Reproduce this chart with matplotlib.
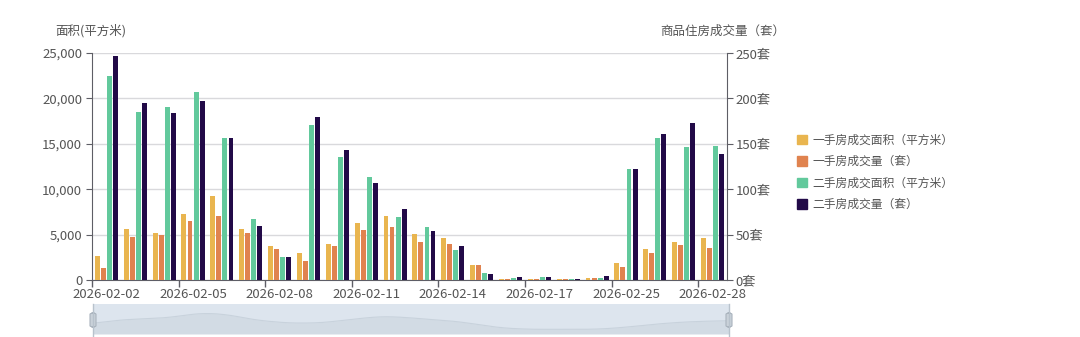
import numpy as np
import matplotlib
matplotlib.use("Agg")
import matplotlib.pyplot as plt
from matplotlib.patches import Patch, FancyBboxPatch
from matplotlib.ticker import FuncFormatter

plt.rcParams['font.family'] = ['Noto Sans CJK SC', 'DejaVu Sans']

dates = [
    "2026-02-02", "2026-02-03", "2026-02-04", "2026-02-05", "2026-02-06",
    "2026-02-07", "2026-02-08", "2026-02-09", "2026-02-10", "2026-02-11",
    "2026-02-12", "2026-02-13", "2026-02-14", "2026-02-15", "2026-02-16",
    "2026-02-17", "2026-02-23", "2026-02-24", "2026-02-25", "2026-02-26",
    "2026-02-27", "2026-02-28",
]

# new homes: area (m²) and units
new_area = [2660, 5650, 5200, 7270, 9300, 5650, 3730, 2980, 3990, 6300,
            7000, 5050, 4580, 1620, 100, 100, 70, 180, 1920, 3430, 4240, 4580]
new_units = [13, 47, 50, 65, 71, 52, 34, 21, 37, 55,
             58, 42, 40, 16, 1, 1, 1, 2, 14, 30, 38, 35]
# second-hand homes: area (m²) and units
old_area = [22500, 18450, 19000, 20660, 15600, 6680, 2550, 17080, 13580, 11330,
            6970, 5830, 3280, 770, 250, 300, 100, 220, 12250, 15680, 14690, 14760]
old_units = [247, 195, 184, 197, 156, 60, 25, 179, 143, 107,
             78, 54, 37, 7, 3, 3, 1, 4, 122, 161, 173, 139]

series_names = ["一手房成交面积（平方米）", "一手房成交量（套）",
                "二手房成交面积（平方米）", "二手房成交量（套）"]
colors = ["#e9b54f", "#e0834f", "#62c99c", "#220a48"]

area_ticks = [0, 5000, 10000, 15000, 20000, 25000]
unit_ticks = [0, 50, 100, 150, 200, 250]

axis_color = "#5e5e66"
grid_color = "#d9d9dc"
text_color = "#555555"

W, H = 1080, 337
fig = plt.figure(figsize=(W / 100, H / 100), dpi=100)

ax = fig.add_axes([92 / W, 57 / H, 635 / W, 227 / H])
ax2 = ax.twinx()

x = np.arange(len(dates))
bw = 0.17
step = 0.21
offs = [-1.5 * step, -0.5 * step, 0.5 * step, 1.5 * step]

ax.bar(x + offs[0], new_area, width=bw, color=colors[0], zorder=3)
ax2.bar(x + offs[1], new_units, width=bw, color=colors[1], zorder=3)
ax.bar(x + offs[2], old_area, width=bw, color=colors[2], zorder=3)
ax2.bar(x + offs[3], old_units, width=bw, color=colors[3], zorder=3)

ax.set_xlim(-0.5, len(dates) - 0.5)
ax.set_ylim(0, 25000)
ax2.set_ylim(0, 250)

ax.set_yticks(area_ticks)
ax.yaxis.set_major_formatter(FuncFormatter(lambda v, p: f"{int(v):,}"))
ax2.set_yticks(unit_ticks)
ax2.set_yticklabels([f"{v}套" for v in unit_ticks])

ax.grid(axis="y", color=grid_color, linewidth=1, zorder=0)
ax.set_axisbelow(True)

label_idx = list(range(0, len(dates), 3))
ax.set_xticks(label_idx)
ax.set_xticklabels([dates[i] for i in label_idx])
ax.set_xticks([i - 0.5 for i in label_idx], minor=True)
ax.tick_params(axis="x", which="major", length=0, pad=6, labelsize=9.5,
               labelcolor=text_color)
ax.tick_params(axis="x", which="minor", length=5, color=axis_color, width=1)

ax.tick_params(axis="y", length=4, color=axis_color, labelsize=9.5,
               labelcolor=text_color, pad=3)
ax2.tick_params(axis="y", length=4, color=axis_color, labelsize=9.5,
                labelcolor=text_color, pad=2)

for a in (ax, ax2):
    a.spines["top"].set_visible(False)
    a.spines["left"].set_color(axis_color)
    a.spines["right"].set_color(axis_color)
    a.spines["bottom"].set_color(axis_color)
ax.spines["right"].set_visible(False)
ax2.spines["left"].set_visible(False)
ax2.spines["bottom"].set_visible(False)

fig.text(91 / W, 1 - 31 / H, "面积(平方米)", ha="center", va="center",
         fontsize=9, color="#555555")
fig.text(723 / W, 1 - 31 / H, "商品住房成交量（套）", ha="center", va="center",
         fontsize=9, color="#555555")

handles = [Patch(facecolor=c, edgecolor=c) for c in colors]
fig.legend(handles, series_names, loc="upper left",
           bbox_to_anchor=(786 / W, 1 - 123 / H), frameon=False,
           fontsize=8.5, handlelength=0.85, handleheight=0.85,
           handletextpad=0.5, labelspacing=0.72, labelcolor="#555555")

# range slider below the chart, showing the first series outline
sl = fig.add_axes([93 / W, 3 / H, 636 / W, 30 / H])
sl.set_xlim(0, len(dates) - 1)
sl.set_ylim(0, 1)
sl.axis("off")
sl.axvspan(0, len(dates) - 1, color="#dde5ee", zorder=0)

vals = np.array(new_area, dtype=float)
fine = np.linspace(0, len(dates) - 1, 400)
curve = np.interp(fine, x, vals)
kernel = np.ones(31) / 31
padded = np.concatenate([np.full(15, curve[0]), curve, np.full(15, curve[-1])])
smooth = np.convolve(padded, kernel, mode="valid")
yy = 0.15 + 0.6 * smooth / vals.max()
sl.fill_between(fine, 0, yy, color="#d2dbe4", zorder=1, linewidth=0)
sl.plot(fine, yy, color="#c8d2dc", linewidth=0.8, zorder=2)

for hx in (93, 729):
    fig.add_artist(plt.Line2D([hx / W, hx / W], [0 / H, 33 / H],
                              color="#b8c2cc", linewidth=1,
                              transform=fig.transFigure))
    box = FancyBboxPatch(((hx - 3) / W, 10 / H), 6 / W, 14 / H,
                         boxstyle="round,pad=0,rounding_size=0.004",
                         facecolor="#c9d1d9", edgecolor="#a9b3bd",
                         linewidth=0.8, transform=fig.transFigure)
    fig.add_artist(box)

fig.savefig("out.png", dpi=100, facecolor="white")
